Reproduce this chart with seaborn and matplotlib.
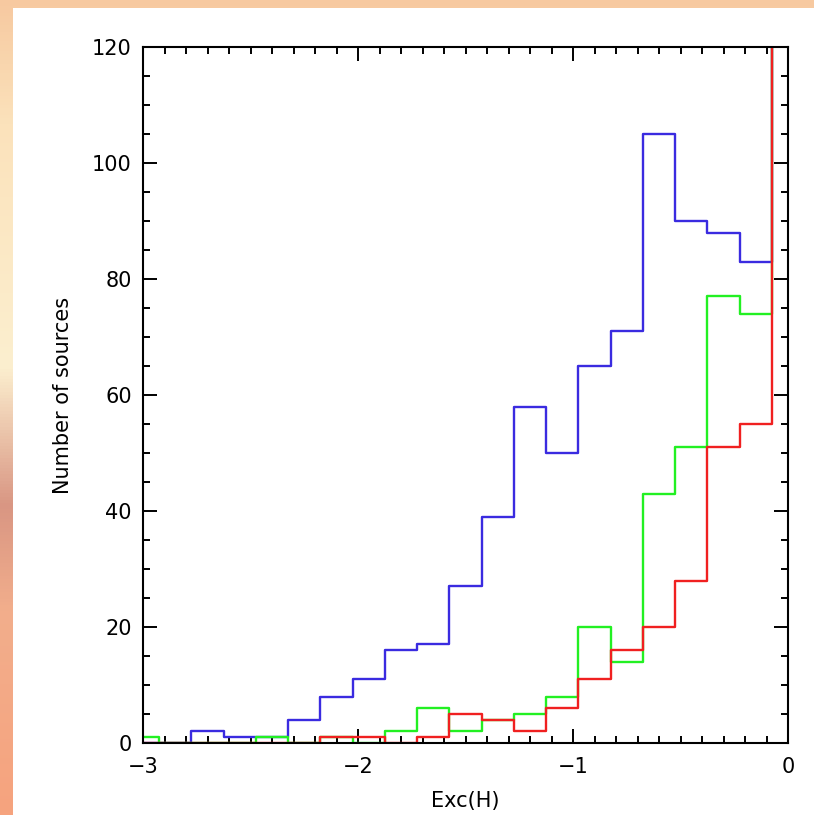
import numpy as np
import pandas as pd
import matplotlib
matplotlib.use("Agg")
import matplotlib.pyplot as plt
from matplotlib.colors import LinearSegmentedColormap
from matplotlib.patches import Rectangle
from matplotlib.ticker import MultipleLocator
import seaborn as sns

# Histogram bins (width 0.15), one count per bin
bin_centers = [-3.0, -2.85, -2.7, -2.55, -2.4, -2.25, -2.1, -1.95, -1.8, -1.65, -1.5,
               -1.35, -1.2, -1.05, -0.9, -0.75, -0.6, -0.45, -0.3, -0.15, 0.0]
counts_blue = [0, 0, 2, 1, 1, 4, 8, 11, 16, 17, 27, 39, 58, 50, 65, 71, 105, 90, 88, 83, 130]
counts_green = [1, 0, 0, 0, 1, 0, 1, 0, 2, 6, 2, 4, 5, 8, 20, 14, 43, 51, 77, 74, 130]
counts_red = [0, 0, 0, 0, 0, 0, 1, 1, 0, 1, 5, 4, 2, 6, 11, 16, 20, 28, 51, 55, 130]

x_ticks = [-3, -2, -1, 0]
y_ticks = [0, 20, 40, 60, 80, 100, 120]

bin_edges = list(np.linspace(-3.075, 0.075, len(bin_centers) + 1))

sns.set_style("ticks")
plt.rcParams['font.family'] = ['DejaVu Sans']

fig = plt.figure(figsize=(8.14, 8.15), dpi=100)

# Blurry peach background behind the white panel
bg = fig.add_axes([0, 0, 1, 1], zorder=-10)
bg_cmap = LinearSegmentedColormap.from_list(
    "bg", [(0.0, "#f7c9a0"), (0.15, "#fbe2bb"), (0.45, "#fcefcf"),
           (0.62, "#d99683"), (0.75, "#f2ae8c"), (1.0, "#f6a37e")])
bg.imshow(np.linspace(0, 1, 256).reshape(-1, 1), aspect="auto", cmap=bg_cmap,
          extent=[0, 1, 0, 1], origin="upper")
bg.set_axis_off()
fig.patches.append(Rectangle((13 / 814, 0), 1, 1 - 8 / 815, transform=fig.transFigure,
                             facecolor="white", edgecolor="none", zorder=-5))

ax = fig.add_axes([143 / 814, 1 - 743 / 815, (788 - 143) / 814, (743 - 47) / 815])
ax.set_facecolor("white")

for counts, color in [(counts_blue, "#3a2be0"), (counts_green, "#22f022"), (counts_red, "#f02020")]:
    df = pd.DataFrame({"exc": bin_centers, "n": counts})
    sns.histplot(data=df, x="exc", weights="n", bins=bin_edges, element="step", fill=False,
                 color=color, linewidth=1.7, ax=ax)

ax.set_xlim(-3, 0)
ax.set_ylim(0, 120)
ax.set_xticks(x_ticks)
ax.set_yticks(y_ticks)
ax.xaxis.set_minor_locator(MultipleLocator(0.1))
ax.yaxis.set_minor_locator(MultipleLocator(5))
ax.tick_params(which="both", direction="in", top=True, right=True, width=1.4,
               labelsize=15, colors="black")
ax.tick_params(which="major", length=10)
ax.tick_params(which="minor", length=5)
ax.tick_params(axis="x", which="major", pad=10)
ax.tick_params(axis="y", which="major", pad=8)
for sp in ax.spines.values():
    sp.set_linewidth(1.5)
    sp.set_color("black")

ax.set_xlabel("Exc(H)", fontsize=15, labelpad=10, color="black")
ax.set_ylabel("Number of sources", fontsize=15, labelpad=14, color="black")

fig.savefig("out.png", dpi=100)
